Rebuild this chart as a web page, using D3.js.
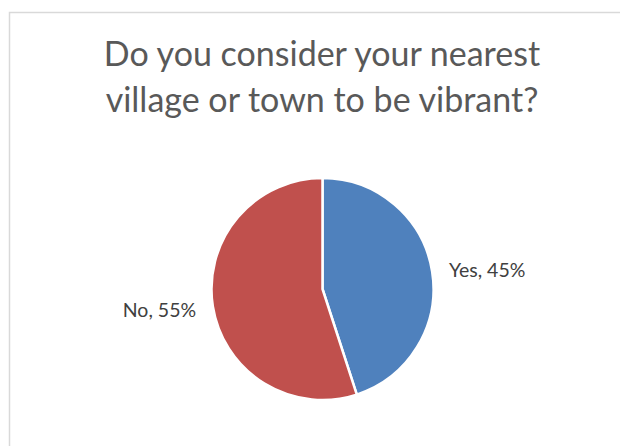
<!DOCTYPE html>
<html>
<head>
<meta charset="utf-8">
<script src="https://cdn.jsdelivr.net/npm/d3@7"></script>
<style>
  html, body { margin: 0; padding: 0; background: #fff; }
  svg { display: block; }
</style>
</head>
<body>
<svg id="chart" width="620" height="446"></svg>
<script>
// Survey answers
const categories = ["Yes", "No"];
const values = [45, 55];
const colors = ["#4F81BD", "#C0504D"];
const titleLines = ["Do you consider your nearest", "village or town to be vibrant?"];

const svg = d3.select("#chart");
const font = "Lato, 'Open Sans', sans-serif";

// chart area frame
svg.append("rect")
  .attr("x", 9.5).attr("y", 12.5)
  .attr("width", 640).attr("height", 460)
  .attr("fill", "#fff")
  .attr("stroke", "#d9d9d9")
  .attr("stroke-width", 1.5);

// title
svg.append("g").selectAll("text")
  .data(titleLines)
  .join("text")
  .attr("x", 322)
  .attr("y", (d, i) => 66 + i * 46)
  .attr("text-anchor", "middle")
  .attr("font-family", font)
  .attr("font-size", 34)
  .attr("fill", "#595959")
  .text(d => d);

const cx = 322.5, cy = 289, r = 111;
const data = categories.map((c, i) => ({ cat: c, value: values[i], color: colors[i] }));

const pie = d3.pie().sort(null).value(d => d.value);
const arc = d3.arc().innerRadius(0).outerRadius(r);
const labelArc = d3.arc().innerRadius(128).outerRadius(128);
const arcs = pie(data);
const total = d3.sum(values);

const g = svg.append("g").attr("transform", `translate(${cx},${cy})`);

g.selectAll("path")
  .data(arcs)
  .join("path")
  .attr("d", arc)
  .attr("fill", d => d.data.color)
  .attr("stroke", "#fff")
  .attr("stroke-width", 2.5)
  .attr("stroke-linejoin", "round");

g.selectAll("text")
  .data(arcs)
  .join("text")
  .attr("transform", d => {
    const [x, y] = labelArc.centroid(d);
    return `translate(${x},${y})`;
  })
  .attr("text-anchor", d => ((d.startAngle + d.endAngle) / 2 < Math.PI ? "start" : "end"))
  .attr("dy", "0.4em")
  .attr("font-family", font)
  .attr("font-size", 19.5)
  .attr("fill", "#404040")
  .text(d => `${d.data.cat}, ${Math.round(d.data.value / total * 100)}%`);
</script>
</body>
</html>
